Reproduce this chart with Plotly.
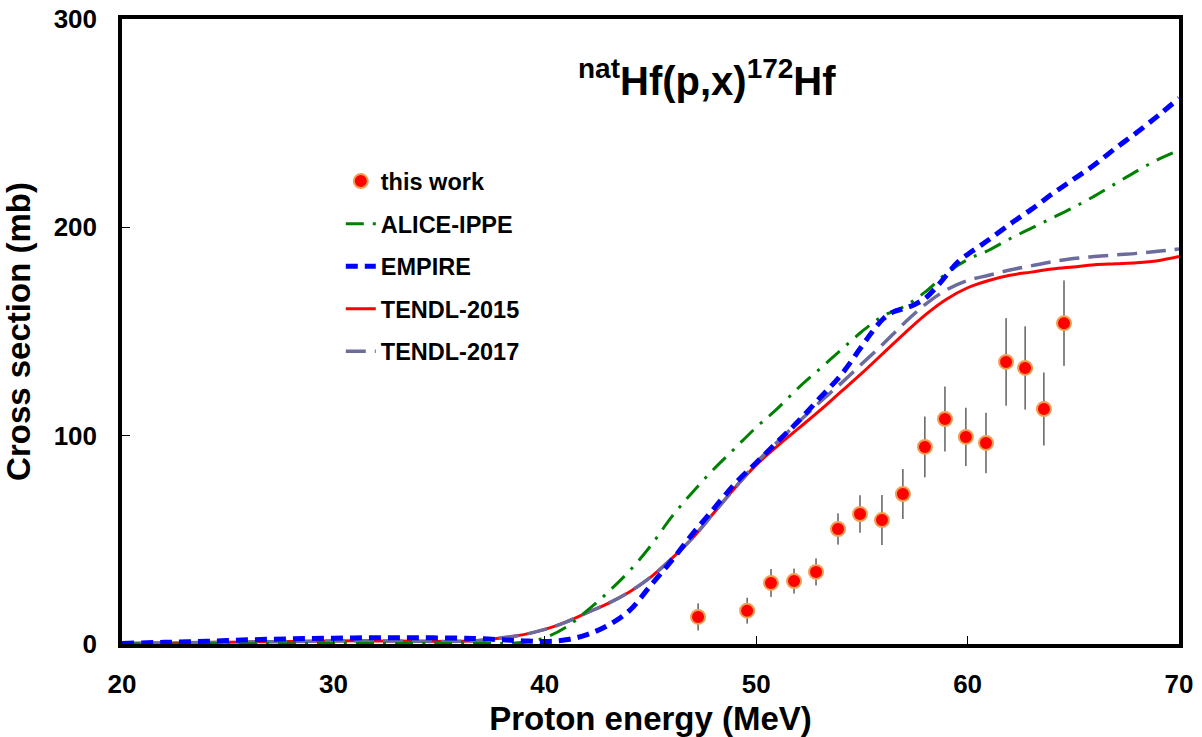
import plotly.graph_objects as go

# ---------------- data ----------------
exp_E = [47.25, 49.57, 50.70, 51.79, 52.83, 53.87, 54.91, 55.95, 56.94,
         57.98, 58.93, 59.92, 60.87, 61.82, 62.72, 63.61, 64.56]
exp_xs = [13.0, 16.0, 29.3, 30.2, 34.6, 55.2, 62.4, 59.5, 72.0,
          94.6, 108.0, 99.4, 96.5, 135.4, 132.5, 112.8, 154.0]
exp_err = [6.5, 6.2, 6.7, 6.0, 6.5, 7.5, 9.0, 12.0, 12.0,
           14.6, 15.6, 14.0, 14.5, 21.0, 20.0, 17.5, 20.5]

alice_E = [20, 25, 30, 35, 38, 39, 40, 41, 42, 43, 44, 45, 46, 47, 48, 49, 50,
           51, 52, 53, 54, 55, 56, 57, 58, 59, 60, 61, 62, 63, 64, 65, 66, 67,
           68, 69, 70]
alice_xs = [0.0, 0.1, 0.2, 0.3, 0.3, 0.8, 3.0, 8.0, 16.0, 25.0, 35.0, 47.0,
            61.0, 73.0, 84.0, 94.0, 104.0, 113.0, 123.0, 132.0, 141.0, 150.0,
            157.5, 162.0, 169.0, 178.0, 184.5, 189.0, 194.5, 199.5, 204.5,
            209.5, 215.0, 221.0, 227.0, 232.5, 237.0]

empire_E = [20, 22, 24, 26, 28, 30, 32, 34, 36, 37, 38, 39, 40, 41, 42, 43, 44,
            45, 46, 47, 48, 49, 50, 51, 52, 53, 54, 55, 55.5, 56, 56.5, 57,
            57.5, 58, 58.5, 59, 59.5, 60, 60.5, 61, 62, 63, 64, 65, 66, 67,
            68, 69, 70]
empire_xs = [0.3, 0.8, 1.3, 2.0, 2.5, 2.8, 3.0, 3.0, 2.8, 2.5, 2.0, 1.5, 1.2,
             2.0, 4.5, 9.0, 16.0, 28.0, 40.0, 53.0, 65.0, 77.0, 87.0, 97.0,
             107.0, 118.0, 129.0, 143.0, 150.0, 156.0, 159.5, 161.0, 163.0,
             166.0, 171.0, 177.0, 183.0, 187.0, 190.5, 194.0, 201.5, 208.5,
             216.0, 223.0, 230.0, 238.0, 245.5, 253.5, 262.0]

t15_E = [20, 22, 24, 26, 28, 30, 32, 34, 36, 37, 38, 39, 40, 41, 42, 43, 44,
         45, 46, 47, 48, 49, 50, 51, 52, 53, 54, 55, 56, 57, 58, 59, 60, 61,
         62, 63, 64, 65, 66, 67, 68, 69, 70]
t15_xs = [0.3, 0.5, 0.7, 1.0, 1.2, 1.5, 1.5, 1.3, 1.3, 1.8, 3.0, 4.5, 7.0,
          10.5, 15.0, 19.5, 25.0, 32.0, 41.0, 51.0, 63.0, 75.0, 86.0, 95.0,
          103.5, 112.0, 121.0, 130.0, 139.5, 149.0, 158.0, 165.5, 171.0,
          174.5, 177.0, 178.5, 180.0, 181.0, 182.0, 182.5, 183.0, 184.0, 186.0]

t17_E = [20, 22, 24, 26, 28, 30, 32, 34, 36, 37, 38, 39, 40, 41, 42, 43, 44,
         45, 46, 47, 48, 49, 50, 51, 52, 53, 54, 55, 56, 57, 58, 59, 60, 61,
         62, 63, 64, 65, 66, 67, 68, 69, 70]
t17_xs = [0.3, 0.5, 0.7, 1.0, 1.2, 1.5, 1.5, 1.3, 1.3, 1.8, 3.0, 4.5, 7.0,
          10.5, 15.0, 19.5, 25.0, 32.0, 41.0, 51.0, 63.0, 75.0, 87.0, 97.0,
          106.5, 116.0, 125.0, 134.5, 144.0, 154.0, 163.0, 170.0, 174.5,
          177.0, 179.5, 181.5, 183.5, 185.0, 186.0, 186.8, 187.5, 188.5, 189.6]

x_ticks = [20, 30, 40, 50, 60, 70]
y_ticks = [0, 100, 200, 300]

FONT = "Liberation Sans, Arial, sans-serif"

fig = go.Figure()

fig.add_trace(go.Scatter(
    x=t15_E, y=t15_xs, mode="lines", name="TENDL-2015",
    line=dict(color="#FF0000", width=3, shape="spline"),
    legendrank=4, legendgroup="d"))
fig.add_trace(go.Scatter(
    x=t17_E, y=t17_xs, mode="lines", name="TENDL-2017",
    line=dict(color="#6B6B9E", width=3.5, dash="20px,9px", shape="spline"),
    legendrank=5, legendgroup="e"))
fig.add_trace(go.Scatter(
    x=alice_E, y=alice_xs, mode="lines", name="ALICE-IPPE",
    line=dict(color="#008000", width=3, dash="18px,9px,3px,9px", shape="spline"),
    legendrank=2, legendgroup="b"))
fig.add_trace(go.Scatter(
    x=empire_E, y=empire_xs, mode="lines", name="EMPIRE",
    line=dict(color="#0000FF", width=5, dash="12px,7px", shape="spline"),
    legendrank=3, legendgroup="c"))
fig.add_trace(go.Scatter(
    x=exp_E, y=exp_xs, mode="markers", name="this work",
    marker=dict(color="#FF0000", size=14, line=dict(color="#F0A050", width=2)),
    error_y=dict(type="data", array=exp_err, visible=True,
                 color="#111111", thickness=1, width=0),
    legendrank=1, legendgroup="a"))

fig.add_annotation(
    text="<b><sup>nat</sup>Hf(p,x)<sup>172</sup>Hf</b>",
    xref="paper", yref="paper", x=0.553, y=0.905, xanchor="center",
    yanchor="middle", showarrow=False,
    font=dict(family=FONT, size=40, color="black"))

axis_common = dict(
    showline=True, linecolor="black", linewidth=3.5, mirror=True,
    ticks="inside", ticklen=8, tickwidth=1, tickcolor="black",
    showgrid=False, zeroline=False, automargin=False,
    tickfont=dict(family=FONT, size=26, color="black", weight="bold"),
)

fig.update_xaxes(
    range=[20, 70], tickvals=x_ticks, ticktext=[str(v) for v in x_ticks],
    title=dict(text="Proton energy (MeV)",
               font=dict(family=FONT, size=33, color="black", weight="bold"),
               standoff=10),
    ticklabelstandoff=14,
    **axis_common)
fig.update_yaxes(
    range=[0, 300], tickvals=y_ticks, ticktext=[str(v) for v in y_ticks],
    title=dict(text="Cross section (mb)",
               font=dict(family=FONT, size=33, color="black", weight="bold"),
               standoff=14),
    ticklabelstandoff=16,
    **axis_common)

fig.update_layout(
    width=1202, height=737,
    margin=dict(l=122, r=23, t=19, b=93),
    paper_bgcolor="white", plot_bgcolor="white",
    showlegend=True,
    legend=dict(
        x=0.207, y=0.7755, xanchor="left", yanchor="top",
        bgcolor="rgba(0,0,0,0)", borderwidth=0,
        font=dict(family=FONT, size=23.5, color="black", weight="bold"),
        traceorder="grouped", tracegroupgap=9,
    ),
)

fig.write_html("out.html")
